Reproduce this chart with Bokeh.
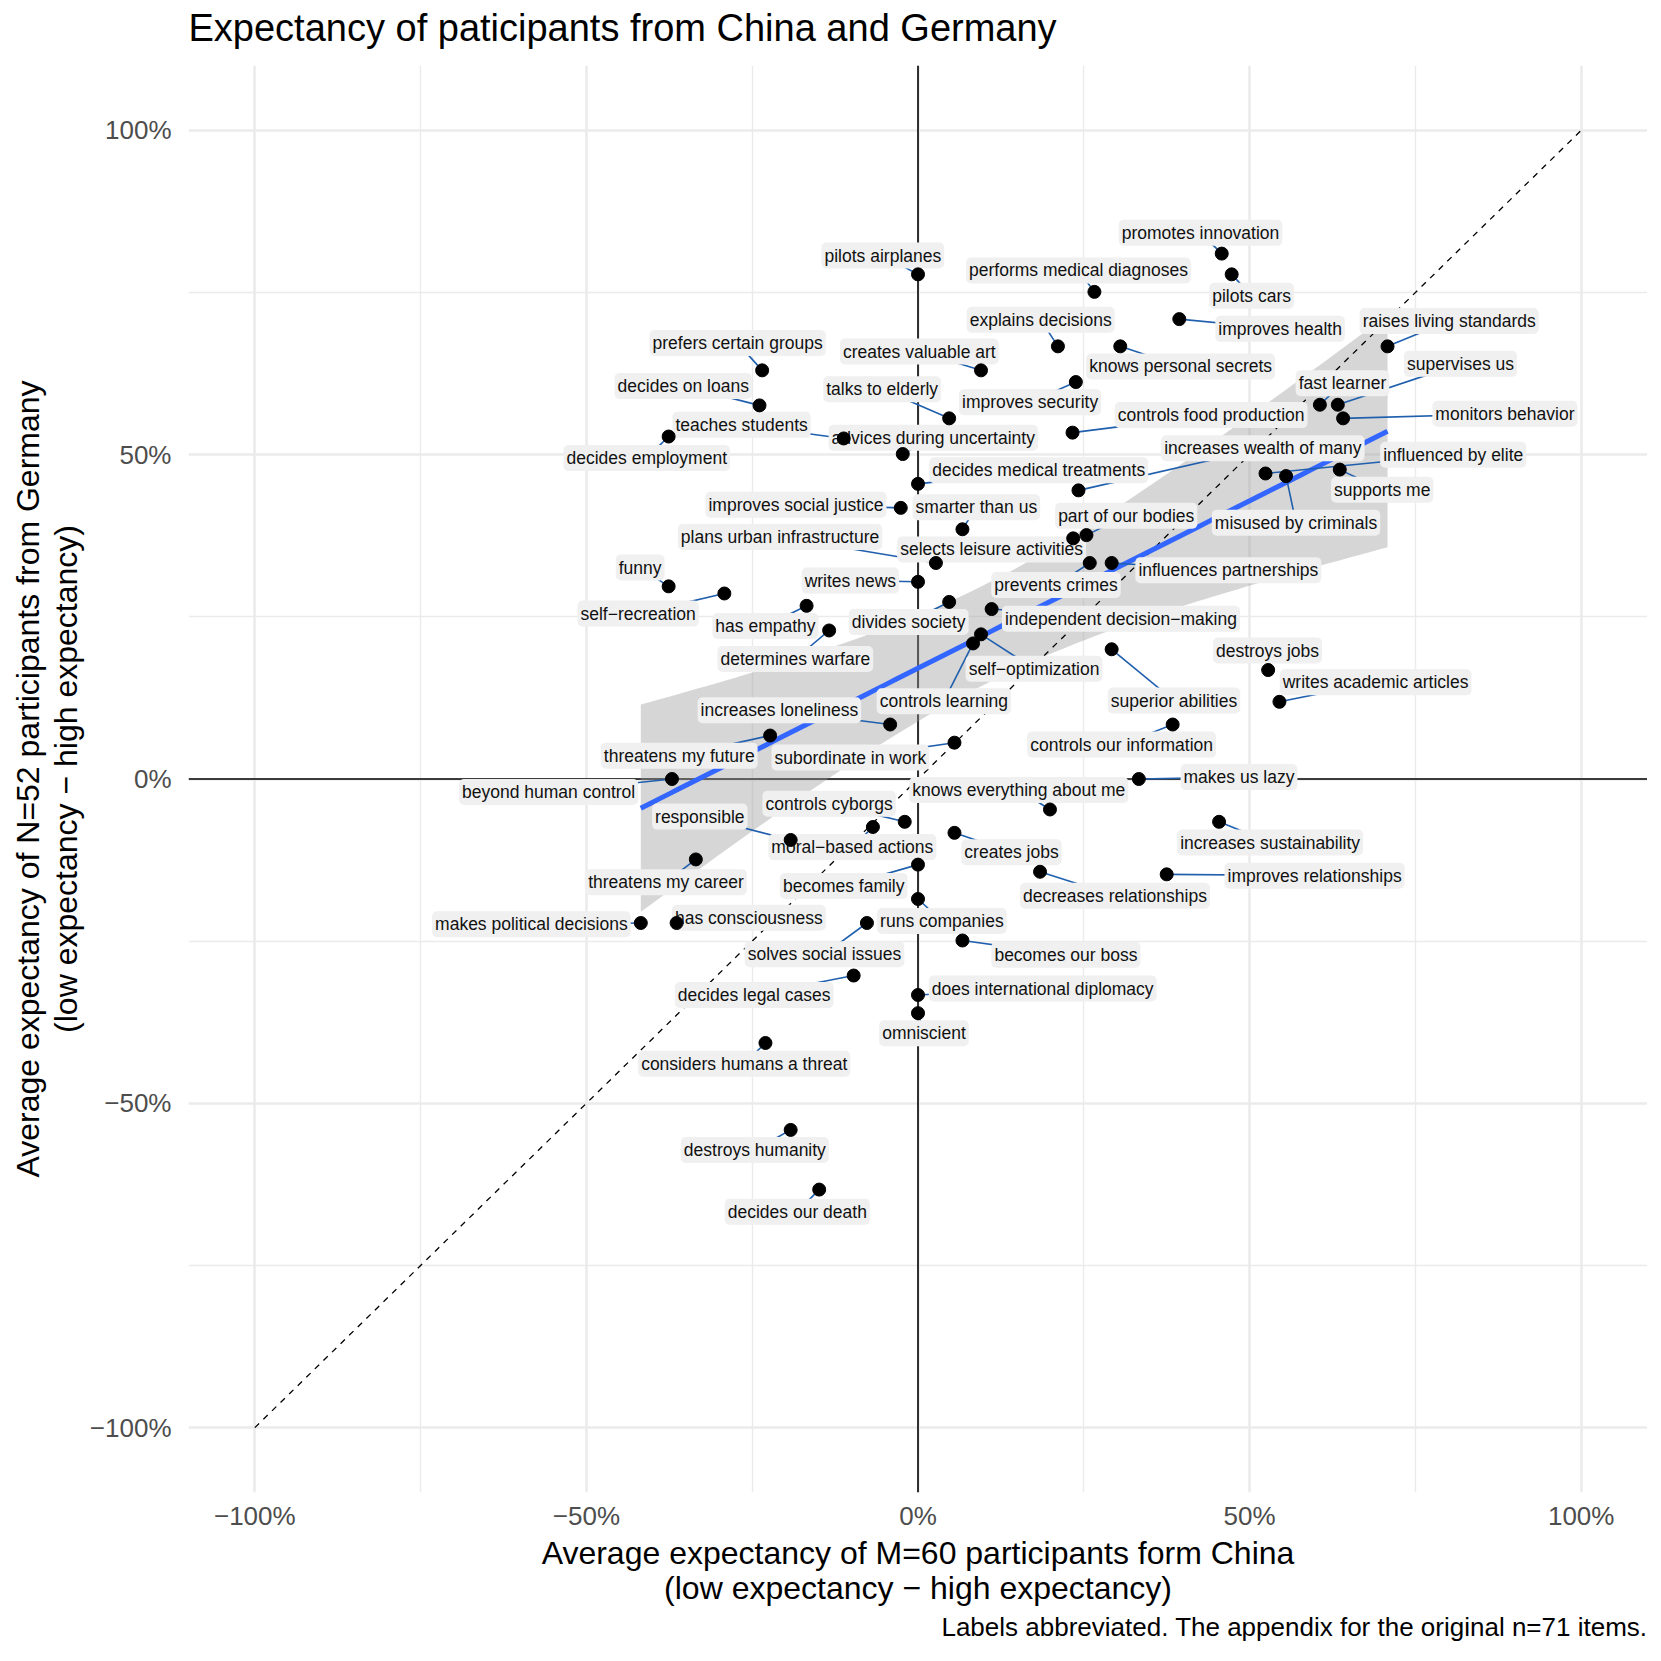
import numpy as np
from bokeh.plotting import figure
from bokeh.models import ColumnDataSource, FixedTicker, Range1d, Span, Title
from bokeh.core.properties import value
from bokeh.embed import file_html
from bokeh.resources import INLINE

FONT = "Liberation Sans"

# ---------------- data ----------------
labels = [
    "promotes innovation", "pilots airplanes", "performs medical diagnoses", "pilots cars",
    "improves health", "raises living standards", "explains decisions", "knows personal secrets",
    "prefers certain groups", "creates valuable art", "supervises us", "talks to elderly",
    "improves security", "fast learner", "decides on loans", "controls food production",
    "monitors behavior", "teaches students", "advices during uncertainty", "decides employment",
    "increases wealth of many", "influenced by elite", "decides medical treatments", "supports me",
    "improves social justice", "smarter than us", "misused by criminals", "part of our bodies",
    "plans urban infrastructure", "selects leisure activities", "influences partnerships", "funny",
    "writes news", "prevents crimes", "self\u2212recreation", "has empathy",
    "divides society", "independent decision\u2212making", "destroys jobs", "determines warfare",
    "self\u2212optimization", "writes academic articles", "superior abilities", "controls learning",
    "increases loneliness", "threatens my future", "controls our information", "subordinate in work",
    "makes us lazy", "beyond human control", "knows everything about me", "controls cyborgs",
    "responsible", "moral\u2212based actions", "increases sustainability", "creates jobs",
    "threatens my career", "becomes family", "decreases relationships", "improves relationships",
    "makes political decisions", "has consciousness", "runs companies", "solves social issues",
    "becomes our boss", "decides legal cases", "does international diplomacy", "omniscient",
    "considers humans a threat", "destroys humanity", "decides our death",
]

china = [
    45.8, 0.0, 26.6, 47.3, 39.4, 70.8, 21.1, 30.5,
    -23.5, 9.5, 63.3, 4.7, 23.8, 60.6, -23.9, 23.3,
    64.1, -11.2, -2.3, -37.6, 24.2, 52.4, 0.0, 63.6,
    -2.6, 6.7, 55.5, 25.4, 2.7, 23.4, 29.2, -37.6,
    0.0, 25.9, -29.2, -16.8, 4.7, 11.1, 52.8, -13.4,
    9.5, 54.5, 29.2, 8.3, -4.2, -22.3, 38.4, 5.5,
    33.3, -37.1, 19.9, -2.0, -19.2, -6.8, 45.4, 5.5,
    -33.5, 0.0, 18.4, 37.5, -41.8, -36.4, 0.0, -7.7,
    6.7, -9.7, 0.0, 0.0, -23.0, -19.2, -14.9,
]

germany = [
    81.0, 77.8, 75.1, 77.8, 70.9, 66.7, 66.7, 66.7,
    63.0, 63.0, 57.7, 55.6, 61.2, 57.7, 57.6, 53.4,
    55.6, 52.5, 50.1, 52.8, 44.5, 47.1, 45.5, 47.7,
    41.8, 38.5, 46.7, 37.6, 33.3, 37.1, 33.3, 29.7,
    30.4, 33.3, 28.6, 26.7, 27.3, 26.2, 16.8, 22.9,
    22.3, 11.9, 20.0, 20.9, 8.4, 6.7, 8.4, 5.6,
    0.0, 0.0, -4.7, -6.6, -9.4, -7.4, -6.6, -8.3,
    -12.4, -13.2, -14.3, -14.7, -22.2, -22.2, -18.5, -22.2,
    -24.9, -30.3, -33.3, -36.1, -40.7, -54.1, -63.3,
]

# label placement (repelled label centres, layout only)
label_x = [
    42.6, -5.3, 24.2, 50.3, 54.6, 80.1, 18.5, 39.6,
    -27.2, 0.2, 81.8, -5.4, 16.9, 64.0, -35.4, 44.2,
    88.5, -26.6, 2.3, -40.9, 52.0, 80.7, 18.2, 70.0,
    -18.4, 8.8, 57.0, 31.4, -20.8, 11.1, 46.8, -41.9,
    -10.2, 20.8, -42.2, -23.0, -1.4, 30.6, 52.7, -18.5,
    17.5, 69.0, 38.6, 3.9, -20.9, -36.0, 30.7, -10.2,
    48.4, -55.7, 15.2, -13.4, -32.9, -9.9, 53.1, 14.1,
    -38.0, -11.2, 29.7, 59.8, -58.3, -25.5, 3.6, -14.1,
    22.3, -24.7, 18.8, 0.9, -26.2, -24.6, -18.2,
]
label_y = [
    84.2, 80.7, 78.4, 74.5, 69.4, 70.6, 70.8, 63.6,
    67.2, 65.9, 64.0, 60.1, 58.1, 61.0, 60.6, 56.1,
    56.3, 54.6, 52.6, 49.5, 51.0, 50.0, 47.6, 44.6,
    42.3, 41.9, 39.5, 40.6, 37.3, 35.4, 32.2, 32.6,
    30.6, 29.9, 25.5, 23.6, 24.2, 24.7, 19.8, 18.5,
    17.0, 14.9, 12.1, 12.0, 10.6, 3.6, 5.3, 3.3,
    0.3, -2.0, -1.7, -3.8, -5.8, -10.5, -9.8, -11.3,
    -15.9, -16.5, -18.0, -14.9, -22.4, -21.4, -21.9, -27.0,
    -27.1, -33.3, -32.3, -39.2, -43.9, -57.2, -66.7,
]

tick_values = [-100, -50, 0, 50, 100]
minor_tick_values = [-75, -25, 25, 75]
tick_labels = ["\u2212100%", "\u221250%", "0%", "50%", "100%"]

title_text = "Expectancy of paticipants from China and Germany"
x_title = ["Average expectancy of M=60 participants form China",
           "(low expectancy \u2212 high expectancy)"]
y_title = ["Average expectancy of N=52 participants from Germany",
           "(low expectancy \u2212 high expectancy)"]
caption = "Labels abbreviated. The appendix for the original n=71 items."

# ---------------- linear fit with 95% confidence band ----------------
xa = np.array(china)
ya = np.array(germany)
n = len(xa)
slope, intercept = np.polyfit(xa, ya, 1)
resid = ya - (slope * xa + intercept)
s = np.sqrt((resid ** 2).sum() / (n - 2))
xbar = xa.mean()
sxx = ((xa - xbar) ** 2).sum()
xs = np.linspace(xa.min(), xa.max(), 80)
fit = slope * xs + intercept
t975 = 1.9949  # Student t quantile, df = n - 2
se = s * np.sqrt(1.0 / n + (xs - xbar) ** 2 / sxx)
lo = fit - t975 * se
hi = fit + t975 * se

src = ColumnDataSource(dict(x=china, y=germany, lx=label_x, ly=label_y, label=labels))

# ---------------- figure ----------------
p = figure(width=1647, height=1647,
           x_range=Range1d(-110, 110), y_range=Range1d(-110, 110),
           output_backend="svg", toolbar_location=None,
           min_border_left=188, min_border_right=0,
           min_border_top=65, min_border_bottom=155)
p.outline_line_color = None
p.background_fill_color = "white"
p.border_fill_color = "white"
p.title.text = ""

# spacer between frame and title, then the title itself (outermost)
p.add_layout(Title(text=" ", text_font=FONT, text_font_size="10px", standoff=4), "above")
p.add_layout(Title(text=title_text, align="left", text_font=FONT, text_font_size="38px",
                   text_font_style="normal", text_color="black", standoff=0), "above")

for ax in (p.xaxis[0], p.yaxis[0]):
    ax.ticker = FixedTicker(ticks=tick_values)
    ax.major_label_overrides = dict(zip(tick_values, tick_labels))
    ax.axis_line_color = None
    ax.major_tick_line_color = None
    ax.minor_tick_line_color = None
    ax.major_tick_out = 0
    ax.major_tick_in = 0
    ax.major_label_text_font = FONT
    ax.major_label_text_font_size = "26px"
    ax.major_label_text_color = "#4D4D4D"
p.xaxis[0].major_label_standoff = 8
p.yaxis[0].major_label_standoff = 17

for g in (p.xgrid[0], p.ygrid[0]):
    g.ticker = FixedTicker(ticks=tick_values, minor_ticks=minor_tick_values)
    g.grid_line_color = "#EBEBEB"
    g.grid_line_width = 2.6
    g.minor_grid_line_color = "#EBEBEB"
    g.minor_grid_line_width = 1.4

# axis titles and caption
x_standoffs = [-2, -3]
for txt, so in zip(x_title, x_standoffs):
    p.add_layout(Title(text=txt, align="center", text_font=FONT, text_font_size="32px",
                       text_font_style="normal", text_color="black", standoff=so), "below")
p.add_layout(Title(text=caption, align="right", text_font=FONT, text_font_size="26px",
                   text_font_style="normal", text_color="black", standoff=10), "below")
y_standoffs = [6, -6]   # nearest line first
for txt, so in zip(reversed(y_title), y_standoffs):
    p.add_layout(Title(text=txt, align="center", text_font=FONT, text_font_size="32px",
                       text_font_style="normal", text_color="black", standoff=so), "left")

# reference lines
p.add_layout(Span(location=0, dimension="height", line_color="black", line_width=1.6, level="underlay"))
p.add_layout(Span(location=0, dimension="width", line_color="black", line_width=1.6, level="underlay"))

# confidence band, identity line, fit
p.varea(x=xs, y1=lo, y2=hi, fill_color="#999999", fill_alpha=0.4)
p.line(x=[tick_values[0], tick_values[-1]], y=[tick_values[0], tick_values[-1]],
       line_color="black", line_width=1.3, line_dash="6 6")
p.line(x=xs, y=fit, line_color="#3366FF", line_width=5)

# repel segments, labels, points
p.segment(x0="x", y0="y", x1="lx", y1="ly", source=src, line_color="#1F5FAD", line_width=1.6)
p.text(x="lx", y="ly", text="label", source=src,
       text_font=value(FONT), text_font_size=value("17.5px"), text_color="#111111",
       text_align="center", text_baseline="middle",
       background_fill_color="#F0F0F0", background_fill_alpha=1.0,
       padding=3, border_radius=5)
p.scatter(x="x", y="y", source=src, size=13, fill_color="black", line_color="black")

open("out.html", "w").write(file_html(p, INLINE))
